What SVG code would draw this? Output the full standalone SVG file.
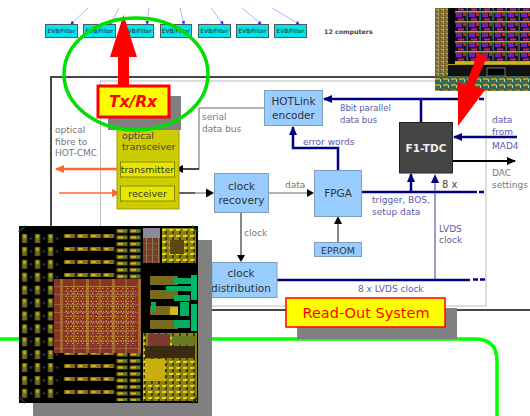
<svg xmlns="http://www.w3.org/2000/svg" width="530" height="416" viewBox="0 0 530 416">
<style>
text{font-family:"DejaVu Sans",sans-serif}
.evb rect{fill:#00e5ee;stroke:#555;stroke-width:1}
.evb text{font-size:5.8px;fill:#222;text-anchor:middle}
.blue{fill:#99ccff;stroke:#7f9fbf;stroke-width:1}
.lb{font-size:9px;fill:#5a5aa8}
.lg{font-size:9px;fill:#777}
.nt{font-size:10.5px;fill:#333;text-anchor:middle}
.nv{stroke:#000080;stroke-width:2.500;fill:none}
.nvt{stroke:#3a3a9a;stroke-width:1;fill:none}
.blk{stroke:#666;stroke-width:1;fill:none}
.fan{stroke:#7a7aff;stroke-width:.6;fill:none}
</style>
<defs>
<marker id="an" markerWidth="10" markerHeight="10" refX="8" refY="4" orient="auto" markerUnits="userSpaceOnUse"><path d="M0 0L9 4L0 8Z" fill="#000080"/></marker>
<marker id="ab" markerWidth="10" markerHeight="10" refX="8" refY="4" orient="auto" markerUnits="userSpaceOnUse"><path d="M0 0L9 4L0 8Z" fill="#000"/></marker>
<marker id="ao" markerWidth="10" markerHeight="10" refX="8" refY="4" orient="auto" markerUnits="userSpaceOnUse"><path d="M0 0L9 4L0 8Z" fill="#ff6633"/></marker>
<marker id="af" markerWidth="4" markerHeight="4" refX="3" refY="2" orient="auto" markerUnits="userSpaceOnUse"><path d="M0 0L4 2L0 4Z" fill="#3333ff"/></marker>
<pattern id="pads" width="13" height="12.900" patternUnits="userSpaceOnUse" x="21.500" y="233"><rect width="13" height="13" fill="#000"/><rect x="0.500" y="1" width="5" height="9" fill="#6a7a20"/><rect x="1.500" y="2" width="3" height="3" fill="#c8a818"/><rect x="1.500" y="7" width="3" height="2" fill="#8a5a20"/><circle cx="9.500" cy="5.500" r="1.200" fill="#3a3a70"/></pattern>
<pattern id="pads2" width="13" height="13" patternUnits="userSpaceOnUse" x="63.500" y="233"><rect width="13" height="13" fill="#000"/><rect x="0.500" y="1" width="11" height="4" fill="#8a7a20"/><rect x="2" y="2" width="4" height="2" fill="#d8b818"/><rect x="7" y="2" width="3" height="2" fill="#a05a28"/></pattern>
<pattern id="pads3" width="13" height="6.500" patternUnits="userSpaceOnUse" x="116" y="228"><rect width="13" height="6.500" fill="#000"/><rect x="0.500" y="1" width="11" height="4" fill="#7a6a20"/><rect x="2" y="2" width="5" height="2" fill="#d8b818"/><rect x="8" y="2" width="2" height="2" fill="#20a050"/></pattern>
<pattern id="core" width="26" height="18" patternUnits="userSpaceOnUse" x="54" y="279"><rect width="26" height="18" fill="#8a3226"/><rect x="6" width="3" height="18" fill="#a8682c"/><rect x="19" width="2" height="18" fill="#9a5a2a"/><rect y="7" width="26" height=".8" fill="#9a6a50"/><rect y="15" width="26" height=".8" fill="#9a6a50"/></pattern>
<pattern id="speck" width="5" height="5" patternUnits="userSpaceOnUse"><rect x="0.500" y="0.500" width="1.500" height="1.500" fill="#d09a20"/><rect x="3" y="1" width="1" height="1" fill="#b8a030"/><rect x="2" y="3" width="1.500" height="1" fill="#d8a820"/></pattern>
<pattern id="logic" width="7" height="6" patternUnits="userSpaceOnUse"><rect width="7" height="6" fill="#8a8210"/><rect x="1" y="1" width="4" height="2" fill="#e8d010"/><rect x="4" y="3" width="2" height="3" fill="#403a10"/></pattern>
<pattern id="red2" width="6" height="6" patternUnits="userSpaceOnUse"><rect width="6" height="6" fill="#7a3a30"/><rect x="2" width="1" height="6" fill="#8a8050"/><rect y="3" width="6" height=".7" fill="#607050"/></pattern>
<pattern id="tr" width="13" height="10" patternUnits="userSpaceOnUse" x="455" y="8"><rect width="13" height="10" fill="#1a1020"/><rect y="3" width="13" height="1.500" fill="#b8b020"/><rect x="1" y="5" width="6" height="4" fill="#7020c0"/><rect x="3" y="0.500" width="6" height="2" fill="#d02070"/><rect x="8" y="5" width="3" height="3" fill="#c82020"/><rect x="11.500" width="1.200" height="10" fill="#209060"/></pattern>
<pattern id="tl" width="5" height="4" patternUnits="userSpaceOnUse" x="435" y="8"><rect width="5" height="4" fill="#806a30"/><rect x="1" y="1" width="3" height="1" fill="#e0a020"/><rect x="3" y="2" width="1" height="2" fill="#a0a080"/></pattern>
<pattern id="ts" width="8" height="6" patternUnits="userSpaceOnUse" x="435" y="76"><rect width="8" height="6" fill="#3a6a50"/><rect y="2" width="5" height="2" fill="#c89020"/><rect x="5" y="3" width="1" height="3" fill="#c8c8b0"/></pattern>
</defs>

<g id="evb-row">
<g class="evb" id="evb1"><rect x="45.500" y="24.500" width="32" height="13"/><text x="61.500" y="33">EVB/Filter</text></g>
<g class="evb" id="evb2"><rect x="83.500" y="24.500" width="32" height="13"/><text x="99.500" y="33">EVB/Filter</text></g>
<g class="evb" id="evb3"><rect x="122.500" y="24.500" width="31" height="13"/><text x="138" y="33">EVB/Filter</text></g>
<g class="evb" id="evb4"><rect x="160.500" y="24.500" width="31" height="13"/><text x="176" y="33">EVB/Filter</text></g>
<g class="evb" id="evb5"><rect x="198.500" y="24.500" width="32" height="13"/><text x="214.500" y="33">EVB/Filter</text></g>
<g class="evb" id="evb6"><rect x="236.500" y="24.500" width="32" height="13"/><text x="252.500" y="33">EVB/Filter</text></g>
<g class="evb" id="evb7"><rect x="274.500" y="24.500" width="32" height="13"/><text x="290.500" y="33">EVB/Filter</text></g>
<text x="324" y="33.500" font-size="6.300" font-weight="bold" fill="#444">12 computers</text>
</g>

<g id="connectors-fan">
<path class="fan" marker-end="url(#af)" d="M88 8L71 24"/>
<path class="fan" marker-end="url(#af)" d="M119 8L110 24"/>
<path class="fan" marker-end="url(#af)" d="M149 8L147 24"/>
<path class="fan" marker-end="url(#af)" d="M180 8L184 24"/>
<path class="fan" marker-end="url(#af)" d="M211 8L223 24"/>
<path class="fan" marker-end="url(#af)" d="M242 8L261 24"/>
<path class="fan" marker-end="url(#af)" d="M272 8L299 24"/>
</g>

<g id="frame">
<rect x="51" y="77" width="490" height="233" fill="#fff" stroke="#333" stroke-width="1.800"/>
<rect x="100.500" y="81" width="385.500" height="225" fill="#fff" stroke="#bbb" stroke-width="1"/>
</g>

<g id="connectors">
<path class="nv" marker-end="url(#an)" d="M472 99H324"/>
<path class="nv" stroke-dasharray="5 2" d="M472 99H486"/>
<path class="nv" d="M421 122V99"/>
<path class="nv" marker-end="url(#an)" d="M338 170V148H293V127"/>
<path class="nv" marker-end="url(#an)" d="M517 137H454"/>
<path d="M452 161H515" stroke="#000" stroke-width="2" fill="none" marker-end="url(#ab)"/>
<path class="nv" d="M361 192H472"/>
<path class="nv" stroke-dasharray="5 2" d="M472 192H486"/>
<path class="nv" marker-end="url(#an)" d="M411 192V174"/>
<path class="nvt" d="M435 280V181"/>
<path d="M435 174L431 183H439Z" fill="#000080"/>
<path class="nv" d="M277 280H470"/>
<path class="nv" stroke-dasharray="5 2" d="M473 279.500H486"/>
<path class="blk" d="M265 108H199V169H183" stroke-width="1.200"/>
<path d="M183 169H199" stroke="#000" stroke-width="1.200"/>
<path d="M175 169L183 165V173Z" fill="#000"/>
<path class="blk" d="M175 193H208"/>
<path d="M175 193H195" stroke="#111" stroke-width="1"/>
<path d="M214 193L206 188.500V197.500Z" fill="#000"/>
<path class="blk" d="M269 193H309"/>
<path d="M314 193L307 189V197Z" fill="#000"/>
<path d="M338 242V224" stroke="#111" stroke-width="1" fill="none"/>
<path d="M338 216L334 224H342Z" fill="#000"/>
<path d="M241 213V258" stroke="#111" stroke-width="1" fill="none"/>
<path d="M241 262L237 255H245Z" fill="#000"/>
<path d="M119 169H56" stroke="#ff6633" stroke-width="2.500" fill="none" marker-end="url(#ao)"/>
<path d="M59 193H120" stroke="#ff6633" stroke-width="1.500" fill="none" marker-end="url(#ao)"/>
</g>

<g id="labels">
<text class="lg"><tspan x="55" y="133">optical</tspan><tspan x="55" y="144.500">fibre to</tspan><tspan x="55" y="156">HOT-CMC</tspan></text>
<text class="lg"><tspan x="202" y="120">serial</tspan><tspan x="202" y="132">data bus</tspan></text>
<text class="lb" style="font-size:8.500px"><tspan x="340" y="111">8bit parallel</tspan><tspan x="340" y="123">data bus</tspan></text>
<text class="lb" x="303" y="145">error words</text>
<text class="lb"><tspan x="492" y="123">data</tspan><tspan x="492" y="134.500">from</tspan><tspan x="492" y="149">MAD4</tspan></text>
<text class="lg"><tspan x="492" y="176">DAC</tspan><tspan x="492" y="188">settings</tspan></text>
<text x="442" y="188" font-size="10" fill="#444">8 x</text>
<text class="lg" x="285" y="188">data</text>
<text class="lb"><tspan x="372" y="203">trigger, BOS,</tspan><tspan x="372" y="215">setup data</tspan></text>
<text class="lb"><tspan x="439" y="232">LVDS</tspan><tspan x="439" y="243">clock</tspan></text>
<text class="lb" x="358" y="292">8 x LVDS clock</text>
<text class="lg" x="244" y="236">clock</text>
</g>

<g id="transceiver">
<rect x="117" y="128" width="62" height="81" fill="#cccc00" stroke="#a0a000"/>
<text font-size="9.500" fill="#444"><tspan x="122" y="139">optical</tspan><tspan x="122" y="150">transceiver</tspan></text>
</g>
<g id="transmitter"><rect x="120.500" y="162" width="54" height="15" fill="#e6e600" stroke="#888800"/><text x="147.500" y="173" font-size="9.500" fill="#333" text-anchor="middle">transmitter</text></g>
<g id="receiver"><rect x="120.500" y="186" width="54" height="15" fill="#e6e600" stroke="#888800"/><text x="147.500" y="197" font-size="9.500" fill="#333" text-anchor="middle">receiver</text></g>
<g id="hotlink"><rect class="blue" x="264.500" y="90.500" width="58" height="35"/><text class="nt" x="293.500" y="105">HOTLink</text><text class="nt" x="293.500" y="119">encoder</text></g>
<g id="clock-recovery"><rect class="blue" x="214.500" y="173.500" width="54" height="39"/><text class="nt" x="241.500" y="190">clock</text><text class="nt" x="241.500" y="204">recovery</text></g>
<g id="fpga"><rect class="blue" x="314.500" y="170.500" width="47" height="46"/><text class="nt" x="338" y="197">FPGA</text></g>
<g id="eprom"><rect class="blue" x="314.500" y="242.500" width="47" height="14"/><text class="nt" x="338" y="253.500" style="font-size:9.500px">EPROM</text></g>
<g id="clock-distribution"><rect class="blue" x="212" y="262.500" width="65" height="35"/><text class="nt" x="241" y="277">clock</text><text class="nt" x="241" y="292">distribution</text></g>
<g id="f1-tdc"><rect x="399.500" y="122.500" width="53" height="50.500" fill="#444" stroke="#222"/><text x="426" y="152" font-size="10.500" font-weight="bold" fill="#eee" text-anchor="middle">F1-TDC</text></g>

<g id="chip-top">
<rect x="435" y="8" width="95" height="83" fill="#111"/>
<rect x="435" y="8" width="13" height="70" fill="url(#tl)"/>
<rect x="450" y="8" width="5" height="56" fill="#000"/>
<rect x="455" y="8" width="75" height="54" fill="url(#tr)"/>
<rect x="455" y="62" width="75" height="2" fill="#c8b818"/>
<rect x="487" y="68" width="18" height="8" fill="#000" stroke="#ddd" stroke-width=".5"/>
<rect x="448" y="64" width="82" height="1" fill="#a89818"/>
<rect x="435" y="76" width="95" height="15" fill="url(#ts)"/>
</g>
<path id="arrow-f1" d="M478 52L487 57L474 86L485 90L458 126V82L466 85Z" fill="#ff0000"/>

<g id="green-outline">
<path d="M0 339H475Q497 339 497 361V416" fill="none" stroke="#00ff00" stroke-width="3.500"/>
</g>

<g id="readout-tag">
<rect x="297" y="308" width="160" height="31" fill="#808080"/>
<rect x="286" y="298" width="159" height="29" fill="#ffff00" stroke="#ff0000" stroke-width="1.500"/>
<text x="366" y="318" font-size="14.500" fill="#ff0000" text-anchor="middle">Read-Out System</text>
</g>

<g id="chip-bottom">
<rect x="33" y="240" width="179" height="176" fill="#808080"/>
<rect x="19" y="226" width="179" height="177" fill="#000"/>
<rect x="21.500" y="233" width="39" height="168" fill="url(#pads)"/>
<rect x="63.500" y="233" width="52" height="46" fill="url(#pads2)"/>
<rect x="63.500" y="353" width="52" height="46" fill="url(#pads2)"/>
<rect x="116" y="228" width="26" height="52" fill="url(#pads3)"/>
<rect x="116" y="353" width="26" height="48" fill="url(#pads3)"/>
<rect x="54" y="279" width="87" height="74" fill="url(#core)"/>
<rect x="64" y="286" width="72" height="60" fill="url(#speck)"/>
<rect x="143" y="228" width="17" height="35" fill="url(#red2)"/>
<rect x="143" y="228" width="17" height="10" fill="#8a8a9a"/>
<rect x="162" y="228" width="34" height="35" fill="url(#logic)"/>
<rect x="170" y="240" width="14" height="14" fill="#5a4a10"/>
<rect x="143" y="274" width="54" height="47" fill="#000"/>
<rect x="150" y="276" width="28" height="9" fill="#7a6a20"/>
<rect x="150" y="290" width="28" height="9" fill="#7a6a20"/>
<rect x="150" y="306" width="28" height="9" fill="#7a6a20"/>
<rect x="150" y="320" width="28" height="9" fill="#7a6a20"/>
<rect x="174" y="278" width="17" height="6" fill="#00b060"/>
<rect x="166" y="286" width="25" height="5" fill="#00b060"/>
<rect x="174" y="295" width="16" height="6" fill="#00b060"/>
<rect x="191" y="275" width="6" height="25" fill="#00b868"/>
<rect x="191" y="304" width="6" height="27" fill="#00b868"/>
<rect x="180" y="302" width="9" height="14" fill="#00b060"/>
<rect x="174" y="320" width="16" height="8" fill="#00b060"/>
<rect x="151" y="302" width="5" height="10" fill="#00b060"/>
<rect x="170" y="307" width="8" height="8" fill="#d8b818"/>
<rect x="143" y="333" width="54" height="68" fill="url(#logic)"/>
<rect x="148" y="334" width="22" height="12" fill="#7a3a30"/>
<rect x="172" y="336" width="24" height="9" fill="#6a7a20"/>
<rect x="145" y="346" width="50" height="12" fill="#3a2a10"/>
<rect x="145" y="359" width="20" height="22" fill="#caae10"/>
<path d="M19 232L25 226M192 226L198 232M19 397L25 403M192 403L198 397" stroke="#0a3a1a" stroke-width="2"/>
</g>

<g id="txrx-tag">
<rect x="108" y="96" width="73" height="34" fill="#808080"/>
<path d="M123.500 15L137 57H129V87H118V57H110Z" fill="#ff0000"/>
<ellipse id="chip-arrow-ring" cx="136" cy="74" rx="72" ry="56" fill="none" stroke="#00e000" stroke-width="3.500"/>
<rect x="98" y="86" width="71" height="31" fill="#ffff00" stroke="#ff0000" stroke-width="3"/>
<text x="133" y="107" font-size="15.500" font-weight="bold" font-style="italic" fill="#ff0000" text-anchor="middle">Tx/Rx</text>
</g>
</svg>
